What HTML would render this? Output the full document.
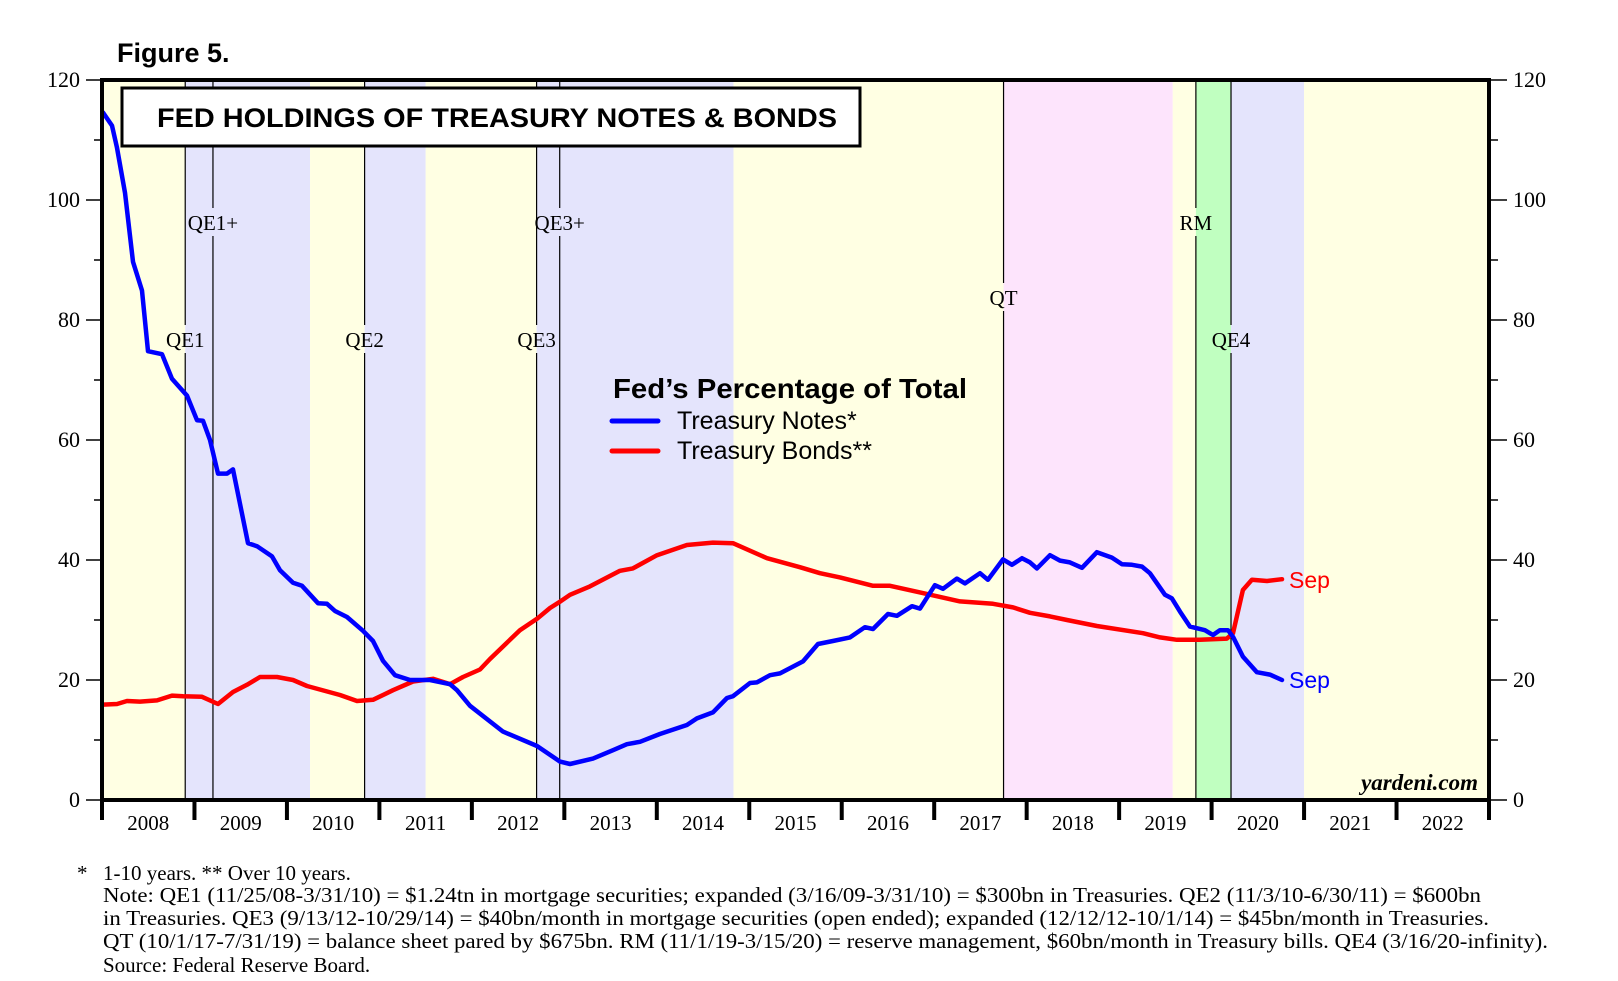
<!DOCTYPE html>
<html><head><meta charset="utf-8"><style>
html,body{margin:0;padding:0;background:#fff;}
svg{display:block;}
.ser{font-family:"Liberation Serif",serif;}
.sans{font-family:"Liberation Sans",sans-serif;}
</style></head><body>
<svg id="chart" width="1618" height="981" viewBox="0 0 1618 981" xmlns="http://www.w3.org/2000/svg">
<g id="bands"></g>
<g id="events"></g>
<g id="lines"></g>
<rect x="122" y="88" width="738" height="58" fill="#fff" stroke="#000" stroke-width="3"/>
<text x="157" y="127" textLength="680" lengthAdjust="spacingAndGlyphs" class="sans" font-size="27" font-weight="bold">FED HOLDINGS OF TREASURY NOTES &amp; BONDS</text>
<text x="117" y="62" class="sans" font-size="27" font-weight="bold">Figure 5.</text>
<g id="axes"></g>
<g>
<text x="613" y="398" textLength="354" lengthAdjust="spacingAndGlyphs" class="sans" font-size="28" font-weight="bold">Fed’s Percentage of Total</text>
<line x1="612" y1="421" x2="658" y2="421" stroke="#0000ff" stroke-width="5" stroke-linecap="round"/>
<text x="677" y="429" class="sans" font-size="25">Treasury Notes*</text>
<line x1="612" y1="451" x2="658" y2="451" stroke="#ff0000" stroke-width="5" stroke-linecap="round"/>
<text x="677" y="459" class="sans" font-size="25">Treasury Bonds**</text>
</g>
<text x="1289" y="588" class="sans" font-size="23" fill="#ff0000">Sep</text>
<text x="1289" y="688" class="sans" font-size="23" fill="#0000ff">Sep</text>
<text x="1478" y="790" text-anchor="end" class="ser" font-size="23" font-weight="bold" font-style="italic">yardeni.com</text>
<g class="ser" font-size="21">
<text x="77" y="880">*</text>
<text x="103" y="880">1-10 years. ** Over 10 years.</text>
<text x="103" y="902" textLength="1378" lengthAdjust="spacingAndGlyphs">Note: QE1 (11/25/08-3/31/10) = $1.24tn in mortgage securities; expanded (3/16/09-3/31/10) = $300bn in Treasuries. QE2 (11/3/10-6/30/11) = $600bn</text>
<text x="103" y="925" textLength="1386" lengthAdjust="spacingAndGlyphs">in Treasuries. QE3 (9/13/12-10/29/14) = $40bn/month in mortgage securities (open ended); expanded (12/12/12-10/1/14) = $45bn/month in Treasuries.</text>
<text x="103" y="948" textLength="1445" lengthAdjust="spacingAndGlyphs">QT (10/1/17-7/31/19) = balance sheet pared by $675bn. RM (11/1/19-3/15/20) = reserve management, $60bn/month in Treasury bills. QE4 (3/16/20-infinity).</text>
<text x="103" y="972">Source: Federal Reserve Board.</text>
</g>
</svg>
<script>
const NS = "http://www.w3.org/2000/svg";
const notesYears = [2008.01,2008.108,2008.162,2008.249,2008.335,2008.433,2008.497,2008.649,2008.757,2008.919,2009.027,2009.092,2009.168,2009.254,2009.352,2009.417,2009.579,2009.676,2009.838,2009.925,2010.066,2010.163,2010.336,2010.433,2010.52,2010.65,2010.823,2010.931,2011.039,2011.169,2011.331,2011.547,2011.763,2011.839,2011.98,2012.337,2012.704,2012.953,2013.061,2013.31,2013.526,2013.677,2013.818,2014.034,2014.326,2014.434,2014.607,2014.759,2014.824,2015.008,2015.083,2015.224,2015.332,2015.581,2015.743,2015.905,2016.089,2016.251,2016.338,2016.5,2016.597,2016.76,2016.846,2017.008,2017.095,2017.246,2017.333,2017.495,2017.581,2017.744,2017.841,2017.949,2018.036,2018.111,2018.252,2018.36,2018.468,2018.598,2018.76,2018.922,2019.031,2019.139,2019.247,2019.333,2019.496,2019.571,2019.658,2019.766,2019.928,2020.015,2020.09,2020.177,2020.231,2020.339,2020.49,2020.631,2020.761];
const notesValues = [114.6,112.4,108.7,101.2,89.7,84.9,74.8,74.3,70.2,67.4,63.3,63.2,60,54.4,54.4,55.1,42.8,42.3,40.6,38.3,36.2,35.7,32.8,32.7,31.5,30.5,28.2,26.5,23.2,20.8,20,20,19.3,18.3,15.7,11.4,9,6.4,6.0,6.9,8.3,9.3,9.7,11.0,12.5,13.6,14.6,17.0,17.3,19.5,19.6,20.8,21.1,23.1,26,26.5,27.1,28.8,28.5,31,30.7,32.3,31.9,35.8,35.2,36.9,36.1,37.8,36.7,40.1,39.2,40.3,39.6,38.6,40.8,39.9,39.6,38.7,41.3,40.4,39.3,39.2,38.9,37.8,34.2,33.6,31.4,28.9,28.3,27.5,28.3,28.3,27.2,23.9,21.3,20.9,20.0];
const bondsYears = [2008.01,2008.162,2008.27,2008.411,2008.595,2008.757,2008.876,2009.081,2009.254,2009.417,2009.568,2009.709,2009.893,2010.066,2010.217,2010.574,2010.758,2010.931,2011.147,2011.363,2011.58,2011.763,2011.904,2012.088,2012.196,2012.52,2012.704,2012.845,2012.953,2013.061,2013.277,2013.602,2013.742,2014.002,2014.326,2014.607,2014.824,2015.192,2015.548,2015.765,2015.981,2016.338,2016.522,2016.846,2017.279,2017.636,2017.852,2018.036,2018.252,2018.436,2018.76,2019.258,2019.442,2019.625,2019.874,2020.166,2020.231,2020.339,2020.436,2020.599,2020.761];
const bondsValues = [15.9,16.0,16.5,16.4,16.6,17.4,17.3,17.2,16.0,18.0,19.2,20.5,20.5,20.0,19.0,17.5,16.5,16.7,18.3,19.75,20.2,19.3,20.5,21.75,23.5,28.3,30.2,32,33.05,34.2,35.6,38.2,38.6,40.8,42.5,42.9,42.8,40.3,38.8,37.8,37.1,35.7,35.7,34.6,33.1,32.7,32.1,31.2,30.6,30.0,29.0,27.8,27.1,26.7,26.7,26.9,27.8,35.0,36.7,36.5,36.8];
const yearLabels = ["2008","2009","2010","2011","2012","2013","2014","2015","2016","2017","2018","2019","2020","2021","2022"];
const yTicks = [0,20,40,60,80,100,120];
const bandStarts = [2008,2008.9,2010.25,2010.84,2011.5,2012.7,2014.83,2017.75,2019.58,2019.83,2020.21,2021.0];
const bandEnds = [2008.9,2010.25,2010.84,2011.5,2012.7,2014.83,2017.75,2019.58,2019.83,2020.21,2021.0,2023];
const bandKinds = ["y","b","y","b","y","b","y","p","y","g","b","y"];
const eventNames = ["QE1","QE1+","QE2","QE3","QE3+","QT","RM","QE4"];
const eventDates = [2008.9,2009.2,2010.84,2012.7,2012.95,2017.75,2019.83,2020.21];
const eventLabelLevels = [75.5,95,75.5,75.5,95,82.5,95,75.5];

const X0=102, X1=1489, Y0=800, Y1=80;
const xs = t => X0 + (t-2008)/15*(X1-X0);
const ys = v => Y0 - v/120*(Y0-Y1);
const bandColor = {y:"#ffffe3",b:"#e4e4fc",p:"#fde4fc",g:"#c0ffc0"};
function mk(tag, attrs, parent){const e=document.createElementNS(NS,tag);for(const k in attrs)e.setAttribute(k,attrs[k]);parent.appendChild(e);return e;}

const gb=document.getElementById('bands');
bandStarts.forEach((s,i)=>{
  const r=mk('rect',{x:xs(s),y:Y1,width:xs(bandEnds[i])-xs(s),height:Y0-Y1,fill:bandColor[bandKinds[i]]},gb);
  
  
});
const ge=document.getElementById('events');
eventNames.forEach((n,i)=>{
  const x=xs(eventDates[i]);
  const yy=ys(eventLabelLevels[i]);
  const l=mk('line',{x1:x,y1:Y1,x2:x,y2:yy-22,stroke:"#000","stroke-width":1.2},ge);
  
  
  const l2=mk('line',{x1:x,y1:yy+6,x2:x,y2:Y0,stroke:"#000","stroke-width":1.2},ge);
  
  
  const t=mk('text',{x:x,y:yy,"text-anchor":"middle","class":"ser","font-size":21},ge);
  t.textContent=n;
  
  
});
const gl=document.getElementById('lines');
function series(years,vals,color,name){
  const d=years.map((t,i)=>(i?'L':'M')+xs(t).toFixed(1)+','+ys(vals[i]).toFixed(1)).join(' ');
  const p=mk('path',{d:d,fill:"none",stroke:color,"stroke-width":4.5,"stroke-linejoin":"round","stroke-linecap":"round"},gl);
  
  
}
series(bondsYears,bondsValues,"#ff0000","treasury-bonds-line");
series(notesYears,notesValues,"#0000ff","treasury-notes-line");

const ga=document.getElementById('axes');
const fr=mk('rect',{x:X0,y:Y1,width:X1-X0,height:Y0-Y1,fill:"none",stroke:"#000","stroke-width":4},ga);


for(let v=0;v<=120;v+=10){
  const major=v%20===0;
  const l1=mk('line',{x1:major?86:94,y1:ys(v),x2:X0,y2:ys(v),stroke:"#000","stroke-width":1.5},ga);
  
  
  const l2=mk('line',{x1:X1,y1:ys(v),x2:major?1507:1498,y2:ys(v),stroke:"#000","stroke-width":1.5},ga);
  
  
}
yTicks.forEach(v=>{
  const a=mk('text',{x:80,y:ys(v)+7,"text-anchor":"end","class":"ser","font-size":22},ga);
  a.textContent=v;
  
  
  const b=mk('text',{x:1513,y:ys(v)+7,"class":"ser","font-size":22},ga);
  b.textContent=v;
  
  
});
for(let k=0;k<=yearLabels.length;k++){
  const x=xs(2008+k);
  const l=mk('line',{x1:x,y1:Y0,x2:x,y2:820,stroke:"#000","stroke-width":4},ga);
  
  
}
yearLabels.forEach((yl,k)=>{
  const t=mk('text',{x:xs(2008+k+0.5),y:830,"text-anchor":"middle","class":"ser","font-size":21},ga);
  t.textContent=yl;
  
  
});
</script>
</body></html>
